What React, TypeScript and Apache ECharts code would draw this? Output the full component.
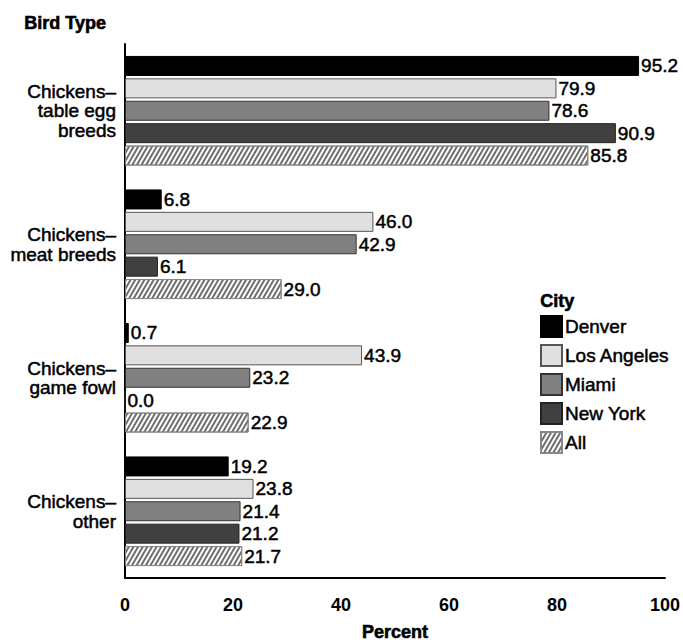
import React, { useEffect, useRef } from "react";
import * as echarts from "echarts";

const categories = [
  "Chickens–\ntable egg\nbreeds",
  "Chickens–\nmeat breeds",
  "Chickens–\ngame fowl",
  "Chickens–\nother",
];
const cities = ["Denver", "Los Angeles", "Miami", "New York", "All"];
const denver = [95.2, 6.8, 0.7, 19.2];
const losAngeles = [79.9, 46.0, 43.9, 23.8];
const miami = [78.6, 42.9, 23.2, 21.4];
const newYork = [90.9, 6.1, 0.0, 21.2];
const all = [85.8, 29.0, 22.9, 21.7];
const xTicks = [0, 20, 40, 60, 80, 100];

const FONT = "'Liberation Sans', Arial, Helvetica, sans-serif";
const HEAVY = { textBorderColor: "#000", textBorderWidth: 0.5 };

export default function App() {
  const ref = useRef<HTMLDivElement>(null);
  useEffect(() => {
    if (!ref.current) return;
    const chart = echarts.init(ref.current, null, { renderer: "svg" });
    const values = [denver, losAngeles, miami, newYork, all];
    const colors = ["#000000", "#e0e0e0", "#808080", "#404040", "#ffffff"];
    const borders = ["#000000", "#555555", "#333333", "#222222", "#888888"];
    const series = cities.map((name, i) => ({
      name,
      type: "bar",
      data: values[i],
      barWidth: 20,
      barGap: "12%",
      itemStyle: {
        color: colors[i],
        borderColor: borders[i],
        borderWidth: 1,
        ...(i === 4
          ? {
              decal: {
                symbol: "rect",
                symbolSize: 1,
                dashArrayX: [[1, 0]],
                dashArrayY: [2, 2],
                rotation: -Math.PI / 3,
                color: "#6e6e6e",
                backgroundColor: "#ffffff",
              },
            }
          : {}),
      },
      label: {
        show: true,
        position: "right",
        distance: 2,
        color: "#000",
        fontFamily: FONT,
        fontSize: 19,
        ...HEAVY,
        formatter: (p: any) => Number(p.value).toFixed(1),
      },
    }));
    chart.setOption({
      animation: false,
      textStyle: { fontFamily: FONT },
      grid: { left: 125, right: 18, top: 44, bottom: 64, outerBoundsMode: "none", containLabel: false },
      graphic: [
        {
          type: "text",
          left: 24,
          top: 14,
          style: { text: "Bird Type", font: `bold 18px ${FONT}`, fill: "#000", stroke: "#000", lineWidth: 0.6 },
        },
        {
          type: "text",
          left: 540,
          top: 292,
          style: { text: "City", font: `bold 18px ${FONT}`, fill: "#000", stroke: "#000", lineWidth: 0.6 },
        },
      ],
      legend: {
        orient: "vertical",
        left: 535,
        top: 310,
        itemWidth: 21,
        itemHeight: 21,
        itemGap: 6,
        icon: "rect",
        data: cities,
        textStyle: {
          fontFamily: FONT,
          fontSize: 19,
          lineHeight: 21,
          color: "#000",
          ...HEAVY,
          padding: [0, 0, 0, -2],
        },
      },
      xAxis: {
        type: "value",
        min: 0,
        max: 100,
        interval: 20,
        name: "Percent",
        nameLocation: "middle",
        nameGap: 45,
        nameTextStyle: { fontFamily: FONT, fontSize: 18, fontWeight: "bold", color: "#000", textBorderColor: "#000", textBorderWidth: 0.6 },
        axisLine: { show: true, lineStyle: { color: "#000", width: 2 } },
        axisTick: { show: false },
        splitLine: { show: false },
        axisLabel: {
          margin: 18,
          fontFamily: FONT,
          fontSize: 18,
          fontWeight: "bold",
          color: "#000",
          formatter: (v: number) => (xTicks.includes(v) ? String(v) : ""),
        },
      },
      yAxis: {
        type: "category",
        inverse: true,
        data: categories,
        axisLine: { show: true, lineStyle: { color: "#000", width: 2 } },
        axisTick: { show: false },
        axisLabel: {
          margin: 9,
          fontFamily: FONT,
          fontSize: 19,
          lineHeight: 19.5,
          color: "#000",
          align: "right",
          ...HEAVY,
        },
      },
      series,
    });
    return () => chart.dispose();
  }, []);
  return <div ref={ref} style={{ width: 683, height: 642, position: "absolute", left: 0, top: 0 }} />;
}
